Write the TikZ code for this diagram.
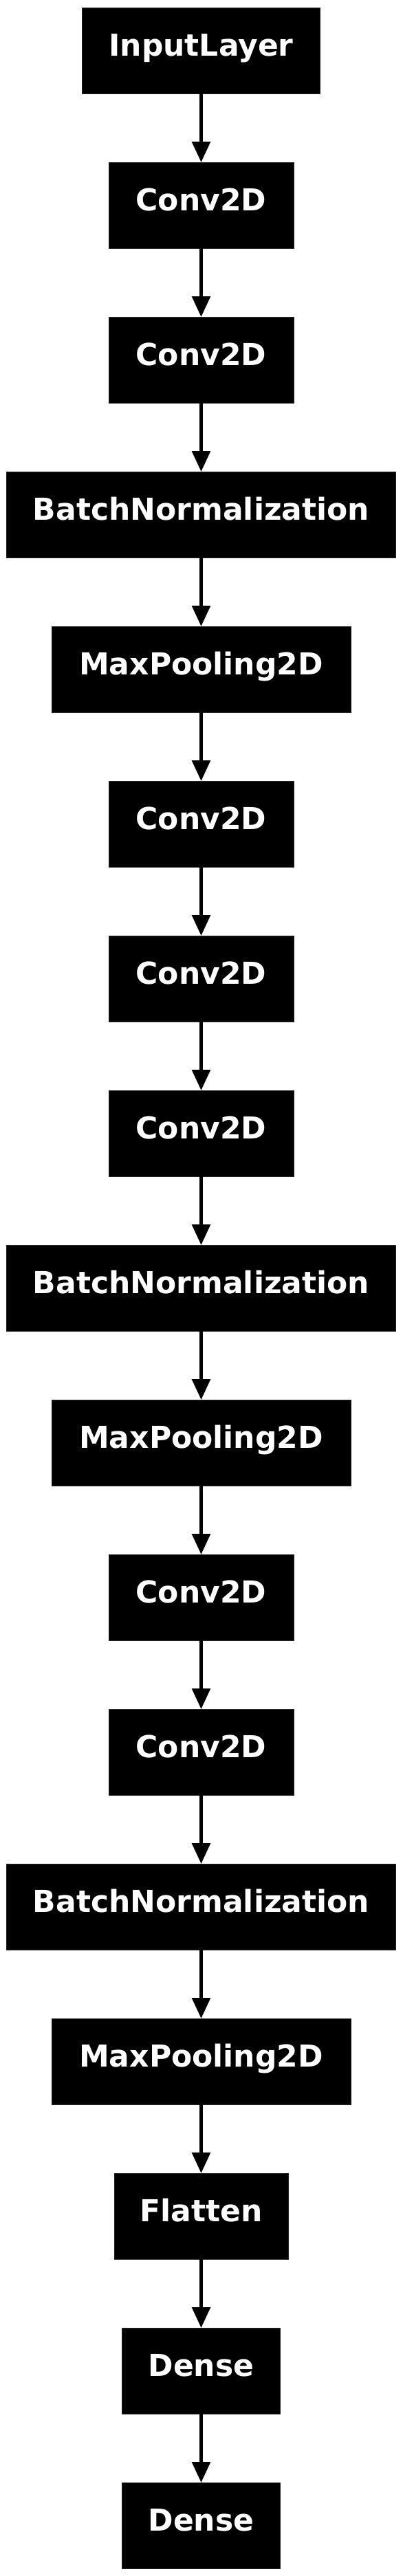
\documentclass[tikz,border=0pt]{standalone}
\usepackage{fontspec}
\setmainfont{DejaVu Sans}
\usetikzlibrary{positioning, arrows.meta}

\begin{document}
\begin{tikzpicture}[
  font=\fontsize{11}{13}\selectfont\bfseries,
  >={Triangle[length=7.5pt, width=6.6pt]},
  node distance=25pt,
  layerbox/.style={rectangle, fill=black, draw=black!85, line width=0.2pt, text=white, inner sep=0pt, outer sep=0pt, minimum height=31.25pt, text height=7pt, text depth=2.85pt, align=center},
  convbox/.style={layerbox, minimum width=67.25pt},
  normbox/.style={layerbox, minimum width=141.5pt},
  poolbox/.style={layerbox, minimum width=108.75pt},
  densebox/.style={layerbox, minimum width=57.5pt},
  layerarrow/.style={->, line width=1.15pt, draw=black}
]
\useasboundingbox (0,0) rectangle (146.5pt,-936.75pt);

% Input
\node[layerbox, minimum width=86.5pt, anchor=north] (InLayer) at (73.125pt,-2.75pt) {InputLayer};

% Block 1
\node[convbox, below=of InLayer] (ConvA) {Conv2D};
\node[convbox, below=of ConvA] (ConvB) {Conv2D};
\node[normbox, below=of ConvB] (NormA) {BatchNormalization};
\node[poolbox, below=of NormA] (PoolA) {MaxPooling2D};

% Block 2
\node[convbox, below=of PoolA] (ConvC) {Conv2D};
\node[convbox, below=of ConvC] (ConvD) {Conv2D};
\node[convbox, below=of ConvD] (ConvE) {Conv2D};
\node[normbox, below=of ConvE] (NormB) {BatchNormalization};
\node[poolbox, below=of NormB] (PoolB) {MaxPooling2D};

% Block 3
\node[convbox, below=of PoolB] (ConvF) {Conv2D};
\node[convbox, below=of ConvF] (ConvG) {Conv2D};
\node[normbox, below=of ConvG] (NormC) {BatchNormalization};
\node[poolbox, below=of NormC] (PoolC) {MaxPooling2D};

% Head
\node[layerbox, minimum width=63.25pt, below=of PoolC] (Flat) {Flatten};
\node[densebox, below=of Flat] (DenseA) {Dense};
\node[densebox, below=of DenseA] (DenseB) {Dense};

% Routing
\draw[layerarrow] (InLayer) -- (ConvA);
\draw[layerarrow] (ConvA) -- (ConvB);
\draw[layerarrow] (ConvB) -- (NormA);
\draw[layerarrow] (NormA) -- (PoolA);
\draw[layerarrow] (PoolA) -- (ConvC);
\draw[layerarrow] (ConvC) -- (ConvD);
\draw[layerarrow] (ConvD) -- (ConvE);
\draw[layerarrow] (ConvE) -- (NormB);
\draw[layerarrow] (NormB) -- (PoolB);
\draw[layerarrow] (PoolB) -- (ConvF);
\draw[layerarrow] (ConvF) -- (ConvG);
\draw[layerarrow] (ConvG) -- (NormC);
\draw[layerarrow] (NormC) -- (PoolC);
\draw[layerarrow] (PoolC) -- (Flat);
\draw[layerarrow] (Flat) -- (DenseA);
\draw[layerarrow] (DenseA) -- (DenseB);

\end{tikzpicture}
\end{document}
